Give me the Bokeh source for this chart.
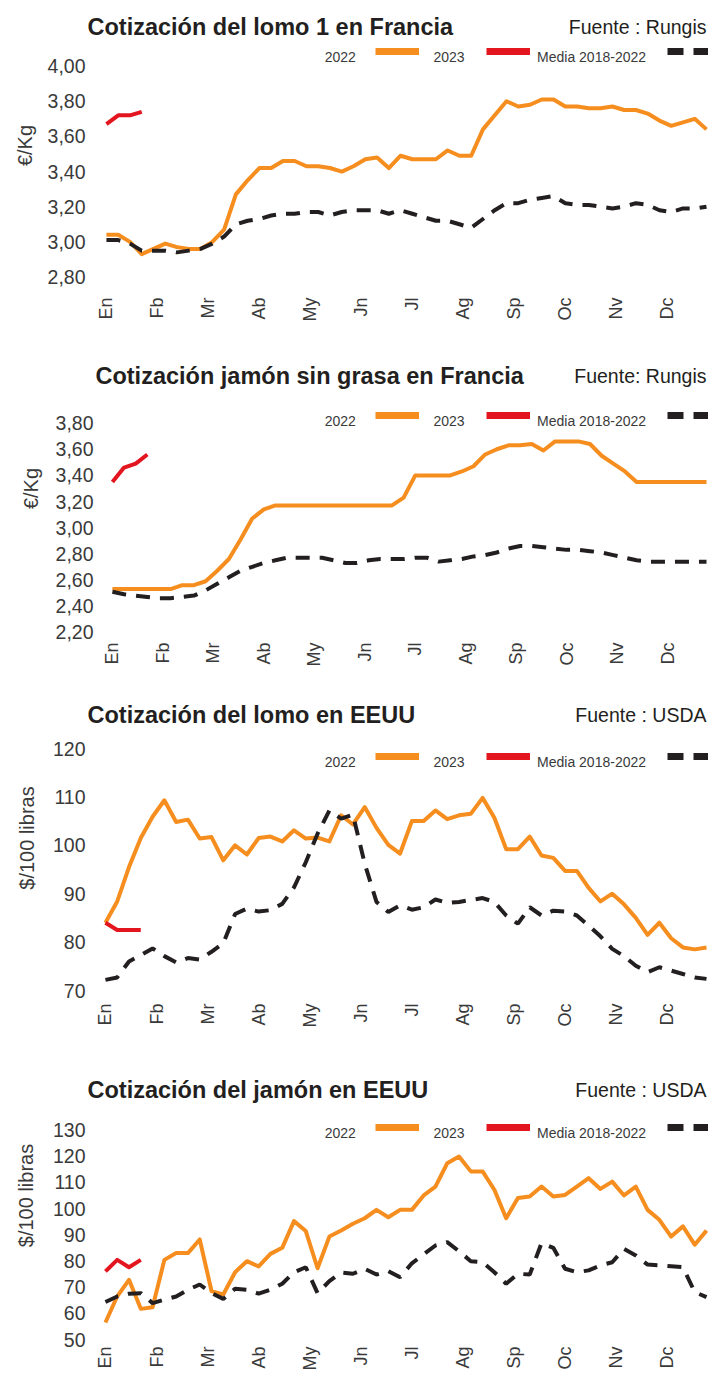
import numpy as np
from math import pi
from bokeh.plotting import figure
from bokeh.layouts import column
from bokeh.models import FixedTicker, CustomJSTickFormatter, Label, Legend, LegendItem, Title
from bokeh.embed import file_html
from bokeh.resources import INLINE

# ---------------- data ----------------
months = ["En", "Fb", "Mr", "Ab", "My", "Jn", "Jl", "Ag", "Sp", "Oc", "Nv", "Dc"]
series_names = ["2022", "2023", "Media 2018-2022"]

# Cotización del lomo 1 en Francia (€/Kg)
lomo_fr_2022 = [3.04, 3.04, 3.00, 2.93, 2.96, 2.99, 2.97, 2.96, 2.96, 3.00,
                3.07, 3.27, 3.35, 3.42, 3.42, 3.46, 3.46, 3.43, 3.43, 3.42,
                3.40, 3.43, 3.47, 3.48, 3.42, 3.49, 3.47, 3.47, 3.47, 3.52,
                3.49, 3.49, 3.64, 3.72, 3.80, 3.77, 3.78, 3.81, 3.81, 3.77,
                3.77, 3.76, 3.76, 3.77, 3.75, 3.75, 3.73, 3.69, 3.66, 3.68,
                3.70, 3.64]
lomo_fr_2023 = [3.67, 3.72, 3.72, 3.74]
lomo_fr_media = [3.01, 3.01, 2.99, 2.95, 2.95, 2.95, 2.94, 2.95, 2.96, 2.99,
                 3.03, 3.10, 3.12, 3.13, 3.15, 3.16, 3.16, 3.17, 3.17, 3.15,
                 3.17, 3.18, 3.18, 3.18, 3.16, 3.18, 3.16, 3.14, 3.12, 3.12,
                 3.10, 3.08, 3.13, 3.18, 3.22, 3.22, 3.24, 3.25, 3.26, 3.22,
                 3.21, 3.21, 3.20, 3.19, 3.20, 3.22, 3.21, 3.18, 3.17, 3.19,
                 3.19, 3.20]
lomo_fr_yticks = [2.8, 3.0, 3.2, 3.4, 3.6, 3.8, 4.0]

# Cotización jamón sin grasa en Francia (€/Kg)
jamon_fr_2022 = [2.53, 2.53, 2.53, 2.53, 2.53, 2.53, 2.56, 2.56, 2.59, 2.67,
                 2.76, 2.91, 3.07, 3.14, 3.17, 3.17, 3.17, 3.17, 3.17, 3.17,
                 3.17, 3.17, 3.17, 3.17, 3.17, 3.23, 3.40, 3.40, 3.40, 3.40,
                 3.43, 3.47, 3.56, 3.60, 3.63, 3.63, 3.64, 3.59, 3.66, 3.66,
                 3.66, 3.64, 3.55, 3.49, 3.43, 3.35, 3.35, 3.35, 3.35, 3.35,
                 3.35, 3.35]
jamon_fr_2023 = [3.35, 3.46, 3.49, 3.56]
jamon_fr_media = [2.51, 2.49, 2.48, 2.47, 2.46, 2.46, 2.47, 2.48, 2.52, 2.57,
                  2.62, 2.67, 2.70, 2.73, 2.75, 2.77, 2.77, 2.77, 2.77, 2.75,
                  2.73, 2.73, 2.75, 2.76, 2.76, 2.76, 2.77, 2.77, 2.74, 2.75,
                  2.76, 2.78, 2.79, 2.81, 2.84, 2.86, 2.86, 2.85, 2.84, 2.83,
                  2.83, 2.82, 2.81, 2.79, 2.77, 2.75, 2.74, 2.74, 2.74, 2.74,
                  2.74, 2.74]
jamon_fr_yticks = [2.2, 2.4, 2.6, 2.8, 3.0, 3.2, 3.4, 3.6, 3.8]

# Cotización del lomo en EEUU ($/100 libras)
lomo_us_2022 = [84.0, 88.4, 95.5, 101.5, 105.9, 109.3, 104.8, 105.3, 101.4, 101.7,
                96.9, 100.0, 98.1, 101.5, 101.8, 100.8, 103.1, 101.4, 101.6, 100.8,
                106.2, 104.3, 107.9, 103.6, 100.1, 98.3, 105.0, 105.0, 107.2, 105.4,
                106.2, 106.5, 109.8, 105.7, 99.2, 99.2, 101.8, 97.9, 97.4, 94.7,
                94.7, 91.2, 88.4, 90.0, 87.8, 85.0, 81.5, 84.0, 80.8, 78.9,
                78.5, 78.9]
lomo_us_2023 = [84.0, 82.5, 82.5, 82.5]
lomo_us_media = [72.2, 72.7, 76.0, 77.3, 78.7, 77.1, 75.8, 76.7, 76.4, 78.0,
                 79.8, 85.8, 86.9, 86.3, 86.6, 87.9, 91.3, 96.5, 102.4, 107.2,
                 105.5, 106.3, 96.2, 88.3, 86.2, 87.6, 86.7, 87.2, 88.8, 88.1,
                 88.3, 88.7, 89.1, 88.3, 85.5, 83.8, 87.2, 85.5, 86.5, 86.3,
                 85.5, 83.4, 81.2, 78.6, 77.1, 75.1, 73.8, 74.8, 74.1, 73.4,
                 72.7, 72.4]
lomo_us_yticks = [70, 80, 90, 100, 110, 120]

# Cotización del jamón en EEUU ($/100 libras)
jamon_us_2022 = [56.5, 66.5, 72.8, 61.7, 62.3, 80.4, 83.0, 83.0, 88.2, 68.5,
                 67.2, 75.7, 79.9, 77.9, 82.7, 85.0, 95.2, 91.4, 77.2, 89.3,
                 91.6, 94.2, 96.3, 99.5, 96.7, 99.5, 99.5, 105.0, 108.4, 117.3,
                 119.9, 114.2, 114.2, 107.2, 96.3, 104.0, 104.6, 108.4, 104.6, 105.2,
                 108.4, 111.6, 107.5, 110.3, 105.0, 108.4, 99.5, 95.7, 89.3, 93.2,
                 86.2, 91.6]
jamon_us_2023 = [76.0, 80.4, 77.6, 80.4]
jamon_us_media = [64.3, 66.4, 67.5, 67.7, 63.9, 65.2, 66.4, 69.0, 71.0, 67.7,
                  65.5, 69.4, 69.0, 67.5, 69.0, 71.3, 75.7, 77.6, 67.7, 72.3,
                  75.6, 75.1, 77.0, 74.8, 76.1, 73.8, 79.1, 82.5, 85.9, 87.2,
                  83.7, 79.9, 79.5, 75.7, 71.3, 75.1, 74.8, 86.8, 85.0, 77.0,
                  75.7, 76.4, 78.3, 79.5, 84.6, 82.1, 78.6, 78.3, 78.0, 77.6,
                  68.1, 66.2]
jamon_us_yticks = [50, 60, 70, 80, 90, 100, 110, 120, 130]

# ---------------- style ----------------
ORANGE = "#F68E1F"
RED = "#E3161F"
BLACK = "#231F20"
TEXT = "#231F20"
GREY = "#3A3A3A"
F_REG = "Liberation Sans"
FRAME_L, FRAME_R, DATA_END = 84, 708, 706

charts = [
    dict(title="Cotización del lomo 1 en Francia", source="Fuente : Rungis", ylabel="€/Kg",
         s22=lomo_fr_2022, s23=lomo_fr_2023, med=lomo_fr_media, yticks=lomo_fr_yticks, dec=2,
         top=0, height=340, fbot=290, ya=((4.0, 65.6), (2.8, 276.5)), x0=104,
         title_x=85, title_base=26.5, src_base=26, leg_y=51, ytick_sd=1, ylab_sd=18, xlab_sd=7),
    dict(title="Cotización jamón sin grasa en Francia", source="Fuente: Rungis", ylabel="€/Kg",
         s22=jamon_fr_2022, s23=jamon_fr_2023, med=jamon_fr_media, yticks=jamon_fr_yticks, dec=2,
         top=340, height=340, fbot=636, ya=((3.8, 422.6), (2.2, 631.7)), x0=110,
         title_x=93, title_base=375, src_base=375, leg_y=415, ytick_sd=-7, ylab_sd=21, xlab_sd=6),
    dict(title="Cotización del lomo en EEUU", source="Fuente : USDA", ylabel="$/100 libras",
         s22=lomo_us_2022, s23=lomo_us_2023, med=lomo_us_media, yticks=lomo_us_yticks, dec=0,
         top=680, height=370, fbot=995, ya=((120, 748), (70, 990)), x0=103,
         title_x=85, title_base=714, src_base=714, leg_y=756, ytick_sd=1, ylab_sd=24, xlab_sd=8),
    dict(title="Cotización del jamón en EEUU", source="Fuente : USDA", ylabel="$/100 libras",
         s22=jamon_us_2022, s23=jamon_us_2023, med=jamon_us_media, yticks=jamon_us_yticks, dec=0,
         top=1050, height=323, fbot=1340, ya=((130, 1129.5), (50, 1339)), x0=103,
         title_x=85, title_base=1089, src_base=1089, leg_y=1127, ytick_sd=1, ylab_sd=25, xlab_sd=6),
]


def build(c):
    (v1, p1), (v2, p2) = c["ya"]
    ppu = (p2 - p1) / (v1 - v2)

    def yv(py):
        return v1 + (p1 - py) / ppu

    n = len(c["s22"])
    xs = np.arange(n) * 12.0 / 52.0
    ppm = (DATA_END - c["x0"]) / xs[-1]

    def xv(px):
        return (px - c["x0"]) / ppm

    p = figure(width=708, height=c["height"],
               x_range=(xv(FRAME_L), xv(FRAME_R)), y_range=(yv(c["fbot"]), yv(c["top"])),
               output_backend="svg", toolbar_location=None,
               min_border_left=FRAME_L, min_border_right=0,
               min_border_top=0,
               min_border_bottom=c["top"] + c["height"] - c["fbot"])
    p.outline_line_color = None
    p.xgrid.visible = False
    p.ygrid.visible = False
    p.background_fill_color = "white"
    p.border_fill_color = "white"

    # series
    p.line(xs, c["s22"], line_color=ORANGE, line_width=4, line_join="round")
    p.line(xs, c["med"], line_color=BLACK, line_width=4, line_dash="14 10")
    p.line(xs[:len(c["s23"])], c["s23"], line_color=RED, line_width=4, line_join="round")

    # x axis
    xa = p.xaxis[0]
    xa.ticker = FixedTicker(ticks=list(range(len(months))))
    xa.major_label_overrides = {i: m for i, m in enumerate(months)}
    xa.major_label_orientation = pi / 2
    xa.major_label_standoff = c["xlab_sd"]
    xa.major_label_text_font = F_REG
    xa.major_label_text_font_size = "18px"
    xa.major_label_text_color = GREY
    xa.axis_line_color = None
    xa.major_tick_line_color = None
    xa.minor_tick_line_color = None
    xa.major_tick_out = 0
    xa.major_tick_in = 0
    xa.minor_tick_out = 0

    # y axis (tick labels) + its title in the left panel
    ya = p.yaxis[0]
    ya.ticker = FixedTicker(ticks=c["yticks"])
    ya.formatter = CustomJSTickFormatter(code="return tick.toFixed(%d).replace('.', ',');" % c["dec"])
    ya.major_label_standoff = c["ytick_sd"]
    ya.major_label_text_font = F_REG
    ya.major_label_text_font_size = "19.5px"
    ya.major_label_text_color = GREY
    ya.axis_line_color = None
    ya.major_tick_line_color = None
    ya.minor_tick_line_color = None
    ya.major_tick_out = 0
    ya.major_tick_in = 0
    ya.minor_tick_out = 0
    p.add_layout(Title(text=c["ylabel"], align="center", standoff=c["ylab_sd"],
                       text_font=F_REG, text_font_size="20px", text_font_style="normal",
                       text_color=GREY), "left")

    # texts (inside the frame area)
    def lab(text, px, py, size, align="left", bold=False, color=TEXT):
        p.add_layout(Label(x=xv(px), y=yv(py), text=text, text_font=F_REG,
                           text_font_size="%spx" % size,
                           text_font_style="bold" if bold else "normal",
                           text_color=color, text_align=align, text_baseline="alphabetic"))

    lab(c["title"], c["title_x"], c["title_base"], 23.5, bold=True)
    lab(c["source"], 706, c["src_base"], 19.5, align="right")

    # legend: text label followed by swatch
    leg_specs = [
        (series_names[0], 323, ORANGE, "solid", 373, 44),
        (series_names[1], 432, RED, "solid", 484, 44),
        (series_names[2], 536, BLACK, "16 10", 665, 42),
    ]
    for name, tx, color, dash, sx, w in leg_specs:
        lab(name, tx, c["leg_y"] + 5, 14, color=GREY)
        r = p.line(x=[np.nan], y=[np.nan], line_color=color, line_width=7, line_dash=dash)
        leg = Legend(items=[LegendItem(label=" ", renderers=[r])],
                     location=(sx - FRAME_L, c["fbot"] - (c["leg_y"] + 4)),
                     orientation="horizontal", glyph_width=w, glyph_height=8,
                     label_width=0, label_height=8, label_standoff=0,
                     padding=0, spacing=0, margin=0,
                     border_line_color=None, background_fill_alpha=0,
                     label_text_font_size="1px")
        p.add_layout(leg)
    return p


figs = [build(c) for c in charts]
layout = column(*figs, spacing=0)
open("out.html", "w").write(file_html(layout, INLINE, title="Cotizaciones porcino"))
